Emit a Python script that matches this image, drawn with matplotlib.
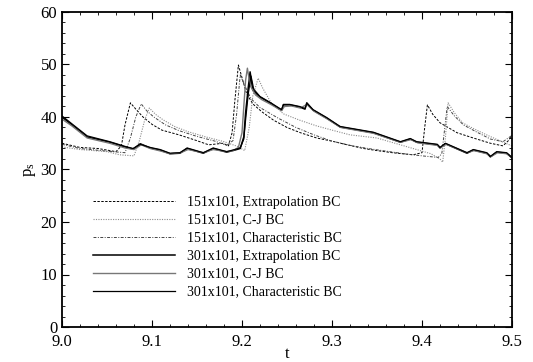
import numpy as np
import matplotlib
matplotlib.use("Agg")
import matplotlib.pyplot as plt
from matplotlib.ticker import MultipleLocator

plt.rcParams['font.family'] = ['Liberation Serif', 'DejaVu Serif']
plt.rcParams['mathtext.fontset'] = 'custom'
plt.rcParams['mathtext.rm'] = 'Liberation Serif'
plt.rcParams['mathtext.it'] = 'Liberation Serif'

# =========================
# DATA
# =========================

# 151x101, Extrapolation BC
t_151_ext = [9.000, 9.020, 9.040, 9.060, 9.066, 9.070, 9.076, 9.082, 9.090, 9.100,
             9.111, 9.130, 9.148, 9.163, 9.179, 9.185, 9.189, 9.192, 9.196, 9.200,
             9.205, 9.212, 9.222, 9.235, 9.250, 9.265, 9.283, 9.300, 9.317, 9.335,
             9.350, 9.367, 9.390, 9.400, 9.403, 9.406, 9.412, 9.420, 9.439, 9.457,
             9.476, 9.490, 9.496, 9.500]
p_151_ext = [35.0, 34.2, 34.0, 33.4, 34.5, 38.5, 42.7, 41.5, 40.0, 38.6,
             37.5, 36.6, 35.6, 34.7, 35.0, 34.5, 37.0, 43.0, 49.9, 47.5,
             44.5, 42.5, 41.0, 39.4, 38.0, 37.0, 36.0, 35.4, 34.7, 34.0,
             33.6, 33.2, 32.8, 33.2, 38.0, 42.3, 40.5, 38.9, 37.0, 36.0,
             35.0, 34.5, 35.5, 36.5]

# 151x101, C-J BC
t_151_cj = [9.000, 9.020, 9.050, 9.064, 9.080, 9.086, 9.092, 9.097, 9.104, 9.112,
            9.125, 9.140, 9.160, 9.180, 9.195, 9.203, 9.208, 9.212, 9.218, 9.223,
            9.232, 9.246, 9.264, 9.283, 9.300, 9.320, 9.350, 9.370, 9.390, 9.410,
            9.420, 9.423, 9.426, 9.429, 9.436, 9.445, 9.457, 9.473, 9.490, 9.500]
p_151_cj = [34.3, 33.8, 33.4, 32.8, 32.6, 35.5, 39.5, 41.7, 40.5, 39.5,
            38.2, 37.2, 36.2, 35.3, 34.4, 33.6, 38.0, 44.0, 47.4, 45.5,
            42.8, 40.6, 39.4, 38.3, 37.5, 36.6, 36.0, 35.0, 34.0, 33.0,
            32.0, 31.4, 36.0, 42.7, 40.8, 38.9, 37.8, 36.5, 35.2, 34.5]

# 151x101, Characteristic BC
t_151_char = [9.000, 9.020, 9.050, 9.070, 9.076, 9.082, 9.088, 9.094, 9.102, 9.115,
              9.130, 9.150, 9.170, 9.183, 9.190, 9.194, 9.198, 9.203, 9.210, 9.220,
              9.240, 9.260, 9.280, 9.300, 9.320, 9.340, 9.360, 9.380, 9.400, 9.418,
              9.422, 9.425, 9.428, 9.436, 9.446, 9.460, 9.476, 9.490, 9.500]
p_151_char = [34.8, 34.0, 33.5, 33.2, 36.0, 40.0, 42.5, 41.2, 40.0, 38.5,
              37.4, 36.3, 35.4, 34.6, 35.5, 40.5, 48.0, 46.0, 43.5, 41.8,
              39.8, 38.0, 36.6, 35.4, 34.6, 34.0, 33.5, 33.0, 32.6, 32.3,
              33.0, 37.5, 42.0, 40.2, 38.5, 37.2, 35.8, 35.3, 36.5]

# 301x101, Extrapolation BC
t_301_ext = [9.000, 9.011, 9.028, 9.053, 9.070, 9.079, 9.087, 9.098, 9.109, 9.120,
             9.131, 9.139, 9.157, 9.168, 9.183, 9.192, 9.198, 9.202, 9.204, 9.207,
             9.209, 9.212, 9.220, 9.231, 9.244, 9.246, 9.253, 9.264, 9.270, 9.272,
             9.279, 9.294, 9.309, 9.346, 9.376, 9.387, 9.394, 9.417, 9.420, 9.426,
             9.450, 9.457, 9.472, 9.476, 9.483, 9.494, 9.500]
p_301_ext = [40.0, 38.5, 36.2, 35.2, 34.3, 33.9, 34.9, 34.1, 33.7, 33.0,
             33.1, 34.0, 33.1, 34.0, 33.3, 33.7, 34.0, 36.2, 40.8, 45.7,
             48.6, 45.1, 43.8, 42.7, 41.3, 42.3, 42.3, 41.9, 41.5, 42.7,
             41.3, 39.8, 38.1, 37.0, 35.2, 35.8, 35.2, 34.7, 34.1, 34.9,
             33.1, 33.7, 33.1, 32.4, 33.3, 33.1, 32.2]

# 301x101, C-J BC
t_301_cj = [9.000, 9.011, 9.028, 9.053, 9.070, 9.080, 9.088, 9.098, 9.110, 9.120,
            9.132, 9.140, 9.157, 9.168, 9.183, 9.190, 9.196, 9.200, 9.202, 9.204,
            9.206, 9.209, 9.215, 9.222, 9.232, 9.244, 9.247, 9.255, 9.265, 9.272,
            9.280, 9.295, 9.310, 9.346, 9.376, 9.388, 9.395, 9.417, 9.421, 9.427,
            9.450, 9.458, 9.472, 9.477, 9.484, 9.494, 9.500]
p_301_cj = [39.6, 38.3, 36.0, 35.0, 34.1, 33.8, 34.7, 34.0, 33.5, 33.0,
            33.2, 33.8, 33.2, 33.8, 33.4, 33.6, 34.2, 37.0, 42.0, 47.0,
            49.3, 46.0, 44.2, 43.3, 42.4, 41.2, 42.0, 42.1, 41.7, 42.4,
            41.1, 39.6, 38.0, 36.9, 35.2, 35.7, 35.1, 34.6, 34.2, 34.8,
            33.2, 33.6, 33.0, 32.5, 33.2, 33.0, 32.4]

# 301x101, Characteristic BC
t_301_char = [9.000, 9.011, 9.028, 9.053, 9.070, 9.079, 9.087, 9.098, 9.109, 9.120,
              9.131, 9.139, 9.157, 9.168, 9.183, 9.192, 9.198, 9.202, 9.204, 9.207,
              9.210, 9.213, 9.220, 9.231, 9.244, 9.246, 9.253, 9.264, 9.270, 9.272,
              9.279, 9.294, 9.309, 9.346, 9.376, 9.387, 9.394, 9.417, 9.420, 9.426,
              9.450, 9.457, 9.472, 9.476, 9.483, 9.494, 9.500]
p_301_char = [40.2, 38.7, 36.4, 35.3, 34.4, 34.0, 34.8, 34.2, 33.8, 33.1,
              33.2, 34.1, 33.2, 34.1, 33.4, 33.8, 34.1, 35.8, 39.5, 44.5,
              47.8, 45.3, 43.9, 42.8, 41.4, 42.4, 42.4, 42.0, 41.6, 42.6,
              41.4, 39.9, 38.2, 37.1, 35.3, 35.9, 35.3, 34.8, 34.2, 35.0,
              33.2, 33.8, 33.2, 32.5, 33.4, 33.2, 32.3]

labels = ["151x101, Extrapolation BC", "151x101, C-J BC", "151x101, Characteristic BC",
          "301x101, Extrapolation BC", "301x101, C-J BC", "301x101, Characteristic BC"]

# =========================
# PLOT
# =========================

fig = plt.figure(figsize=(5.33, 3.62), dpi=100)
ax = fig.add_axes([62 / 533, 1 - 327 / 362, 450 / 533, 315 / 362])

ax.plot(t_151_ext, p_151_ext, color="black", lw=0.7, ls=(0, (2.5, 1.5)), label=labels[0])
ax.plot(t_151_cj, p_151_cj, color="#8c8c8c", lw=0.8, ls=(0, (1, 1.2)), label=labels[1])
ax.plot(t_151_char, p_151_char, color="#444444", lw=0.7, ls=(0, (3, 1.5, 1, 1.5)), label=labels[2])
ax.plot(t_301_ext, p_301_ext, color="black", lw=1.1, label=labels[3])
ax.plot(t_301_cj, p_301_cj, color="#777777", lw=1.0, label=labels[4])
ax.plot(t_301_char, p_301_char, color="black", lw=0.9, label=labels[5])

ax.set_xlim(9, 9.5)
ax.set_ylim(0, 60)
ax.xaxis.set_major_locator(MultipleLocator(0.1))
ax.xaxis.set_minor_locator(MultipleLocator(0.02))
ax.yaxis.set_major_locator(MultipleLocator(10))
ax.yaxis.set_minor_locator(MultipleLocator(2))
ax.tick_params(which="both", direction="in", top=True, right=True, labelsize=12)
ax.tick_params(axis="x", pad=5)
ax.tick_params(which="major", length=5)
ax.tick_params(which="minor", length=2.5)
for s in ax.spines.values():
    s.set_linewidth(1.3)

ax.set_xlabel("t", fontsize=12, labelpad=-3)
ax.set_ylabel(r"$\mathregular{p_s}$", fontsize=12, labelpad=2)

ax.legend(loc="lower left", bbox_to_anchor=(0.069, 0.09), frameon=False, fontsize=10,
          handlelength=5.9, handletextpad=0.9, labelspacing=0.36, borderaxespad=0,
          borderpad=0)

fig.savefig("out.png", dpi=100)
